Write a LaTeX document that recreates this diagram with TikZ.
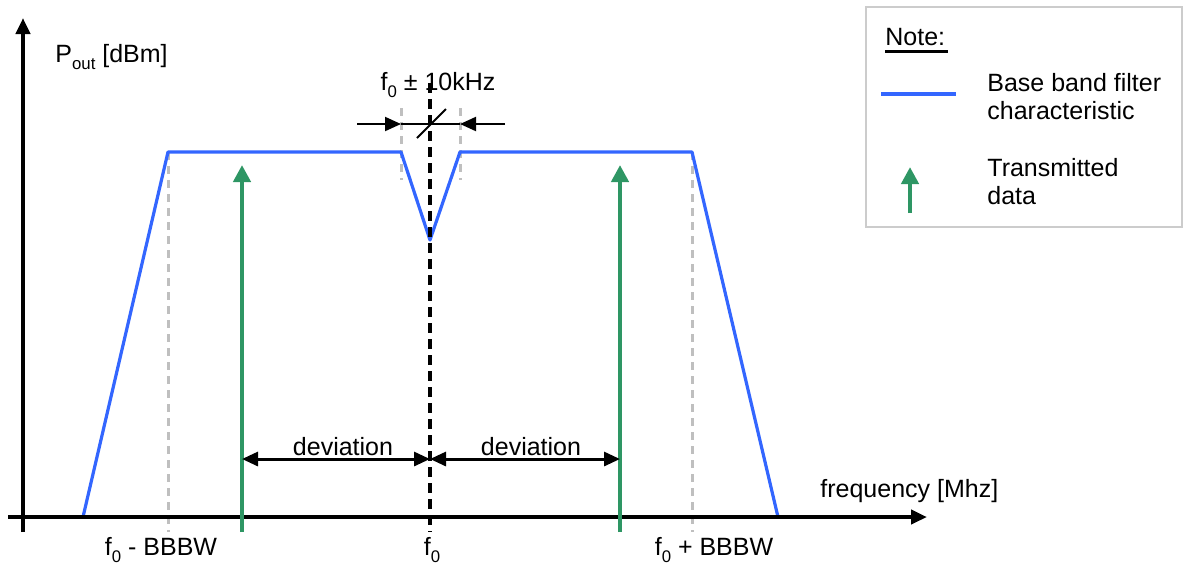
\documentclass[tikz,border=0pt]{standalone}
\usepackage{fontspec}
\setmainfont{Liberation Sans}
\usetikzlibrary{arrows.meta}
\definecolor{filterblue}{RGB}{51,102,255}
\definecolor{datagreen}{RGB}{46,150,100}
\newcommand{\lowidx}[1]{\raisebox{-3.5pt}{\fontsize{8.4}{10}\selectfont #1}}
\tikzset{
  txt/.style={inner sep=0pt},
  axisline/.style={line width=2pt,-{Triangle[length=8pt,width=7pt]}},
  filterline/.style={filterblue,line width=1.6pt},
  dataarrow/.style={datagreen,line width=2.2pt,-{Triangle[length=8.5pt,width=8.5pt]}},
  guide/.style={gray!50,line width=1.5pt,dash pattern=on 4pt off 3pt},
  devarrow/.style={line width=1.5pt,{Triangle[length=8pt,width=7pt]}-{Triangle[length=8pt,width=7pt]}},
  gaparrow/.style={line width=1pt,-{Triangle[length=8pt,width=7pt]}}
}

\begin{document}
\begin{tikzpicture}[x=0.5pt,y=-0.5pt,font=\fontsize{12.5}{14}\selectfont]
		\useasboundingbox (0,0) rectangle (1186,564);
		% 坐标轴
		\coordinate (Xs) at (8,517);
		\coordinate (Xe) at (927,517);
		\coordinate (Ys) at (23,532);
		\coordinate (Ye) at (23,18);
		% 滤波特性的折点
		\coordinate (L0) at (83,517);
		\coordinate (L1) at (168,152);
		\coordinate (N1) at (401,152);
		\coordinate (N0) at (430,240);
		\coordinate (N2) at (460,152);
		\coordinate (R1) at (692,152);
		\coordinate (R0) at (778,517);
		\coordinate (L1b) at (168,532);
		\coordinate (R1b) at (692,532);
		% 中心频率及传输数据
		\coordinate (Ct) at (430,83);
		\coordinate (Cb) at (430,532);
		\coordinate (Cd) at (430,459);
		\coordinate (Gl) at (242,532);
		\coordinate (Glt) at (242,165);
		\coordinate (Gld) at (242,459);
		\coordinate (Gr) at (620,532);
		\coordinate (Grt) at (620,165);
		\coordinate (Grd) at (620,459);
		
		% 辅助虚线
		\draw[guide] (L1)--(L1b);
		\draw[guide] (R1)--(R1b);
		\draw[guide] (401,108)--(401,180);
		\draw[guide] (460,108)--(460,180);
		
		% 绘制滤波特性
		\draw[filterline,line join=round] (L0)--(L1)--(N1)--(N0)--(N2)--(R1)--(R0);
		\draw[line width=2pt,dash pattern=on 5pt off 3pt] (Ct)--(Cb);
		
		% 坐标轴
		\draw[axisline] (Xs)--(Xe);
		\draw[axisline] (Ys)--(Ye);
		
		% 传输数据
		\draw[dataarrow] (Gl)--(Glt);
		\draw[dataarrow] (Gr)--(Grt);
		
		% 频偏
		\draw[devarrow] (Gld)--(Cd);
		\draw[devarrow] (Cd)--(Grd);
		\node[txt,anchor=base] (dl) at (343,455) {deviation};
		\node[txt,anchor=base] (dr) at (531,455) {deviation};
		
		% f0 附近的窄带
		\coordinate (Ga) at (357,124);
		\coordinate (Gb) at (401,124);
		\coordinate (Gc) at (460,124);
		\coordinate (Gd) at (505,124);
		\draw[line width=1pt] (Gb)--(Gc);
		\draw[gaparrow] (Ga)--(Gb);
		\draw[gaparrow] (Gd)--(Gc);
		\draw[line width=1pt] (417,138)--(446,109);
		\node[txt,anchor=base] (gap) at (438,90) {f\lowidx{0} ± 10kHz};
		
		% 标注
		\node[txt,anchor=base west] (py) at (55,62) {P\lowidx{out} [dBm]};
		\node[txt,anchor=base west] (px) at (820,497) {frequency [Mhz]};
		\node[txt,anchor=base] (fl) at (161,555) {f\lowidx{0} - BBBW};
		\node[txt,anchor=base] (fc) at (432,555) {f\lowidx{0}};
		\node[txt,anchor=base] (fr) at (714,555) {f\lowidx{0} + BBBW};
		
		% 图例
		\draw[gray!40,line width=1pt] (866,7) rectangle (1182,227);
		\node[txt,anchor=base west] (note) at (885,45) {Note:};
		\draw[line width=1.5pt] (885,51)--(948,51);
		\draw[filterline] (881,94)--(956,94);
		\node[txt,anchor=base west,align=left] (lb) at (987,119) {Base band filter\\characteristic};
		\draw[dataarrow] (910,213)--(910,167);
		\node[txt,anchor=base west,align=left] (lg) at (987,204) {Transmitted\\data};
	\end{tikzpicture}
\end{document}
